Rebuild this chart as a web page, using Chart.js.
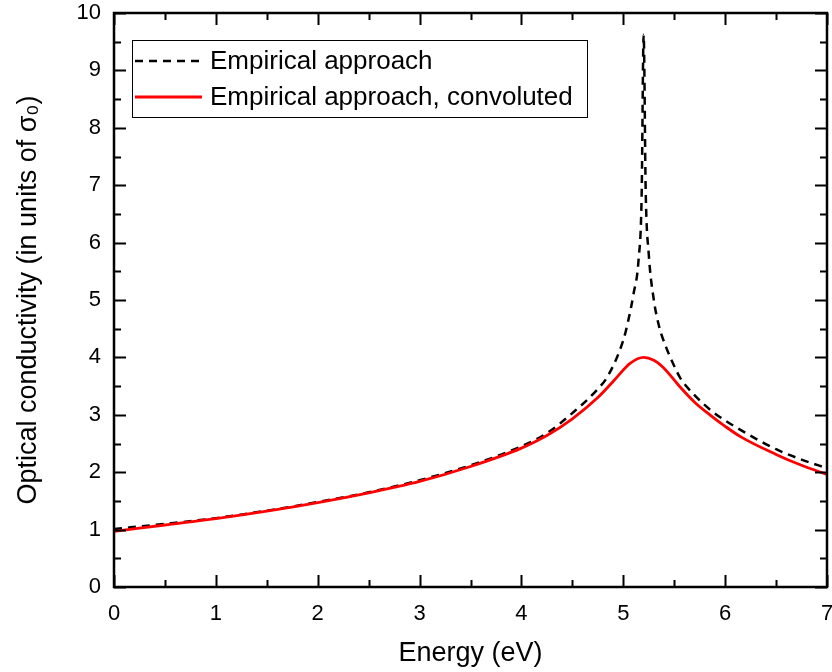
<!DOCTYPE html>
<html>
<head>
<meta charset="utf-8">
<script src="https://cdn.jsdelivr.net/npm/chart.js@4.4.1/dist/chart.umd.min.js"></script>
<style>
  html, body { margin: 0; padding: 0; background: #fff; }
  #wrap { width: 832px; height: 672px; }
</style>
</head>
<body>
<div id="wrap"><canvas id="cond"></canvas></div>
<script>
// Energy (eV) and conductivity values
var energyDashed = [0, 0.5, 1, 1.5, 2, 2.5, 3, 3.5, 4, 4.25, 4.5, 4.75, 4.85, 5.0, 5.05, 5.1, 5.15, 5.18, 5.2, 5.22, 5.25, 5.3, 5.35, 5.42, 5.5, 5.56, 5.69, 5.88, 6.12, 6.5, 6.75, 7.0];
var empirical = [1.01, 1.1, 1.2, 1.33, 1.48, 1.65, 1.86, 2.12, 2.45, 2.68, 3.03, 3.45, 3.68, 4.3, 4.65, 5.1, 5.7, 6.8, 9.62, 6.9, 5.8, 5.0, 4.55, 4.18, 3.85, 3.64, 3.36, 3.05, 2.77, 2.4, 2.22, 2.07];

var energyConv = [0, 0.5, 1, 1.5, 2, 2.5, 3, 3.5, 4, 4.25, 4.5, 4.75, 4.9, 5.07, 5.2, 5.3, 5.39, 5.56, 5.7, 5.85, 6.0, 6.15, 6.5, 6.75, 7.0];
var convoluted = [0.97, 1.08, 1.19, 1.32, 1.47, 1.64, 1.84, 2.1, 2.42, 2.64, 2.93, 3.3, 3.58, 3.9, 4.0, 3.95, 3.83, 3.48, 3.22, 3.0, 2.8, 2.62, 2.31, 2.12, 1.96];

var xTicks = [0, 1, 2, 3, 4, 5, 6, 7];
var yTicks = [0, 1, 2, 3, 4, 5, 6, 7, 8, 9, 10];

var seriesNames = ['Empirical approach', 'Empirical approach, convoluted'];

function toPoints(xs, ys) {
    return xs.map(function (x, i) { return { x: x, y: ys[i] }; });
}

// inward ticks on all four sides + frame
const frameTicks = {
    id: 'frameTicks',
    afterDraw(chart) {
        const { ctx, chartArea: { left, right, top, bottom }, scales: { x, y } } = chart;
        ctx.save();
        ctx.strokeStyle = '#000';
        ctx.lineWidth = 2;
        ctx.beginPath();
        for (var v = 0; v <= 7.001; v += 0.5) {
            var px = Math.round(x.getPixelForValue(v)) + 0.5;
            var len = (Math.abs(v - Math.round(v)) < 0.01) ? 12 : 7;
            ctx.moveTo(px, bottom); ctx.lineTo(px, bottom - len);
            ctx.moveTo(px, top); ctx.lineTo(px, top + len);
        }
        for (var w = 0; w <= 10.001; w += 0.5) {
            var py = Math.round(y.getPixelForValue(w)) + 0.5;
            var len2 = (Math.abs(w - Math.round(w)) < 0.01) ? 12 : 7;
            ctx.moveTo(left, py); ctx.lineTo(left + len2, py);
            ctx.moveTo(right, py); ctx.lineTo(right - len2, py);
        }
        ctx.stroke();
        ctx.lineWidth = 2.5;
        ctx.strokeRect(left, top, right - left, bottom - top);
        ctx.restore();
    }
};

// boxed legend inside the plot
const boxLegend = {
    id: 'boxLegend',
    afterDraw(chart) {
        const { ctx, chartArea: { left, top } } = chart;
        const bx = left + 18, by = top + 27, bw = 455, bh = 77;
        ctx.save();
        ctx.fillStyle = '#fff';
        ctx.fillRect(bx, by, bw, bh);
        ctx.strokeStyle = '#000';
        ctx.lineWidth = 1;
        ctx.strokeRect(bx + 0.5, by + 0.5, bw, bh);
        ctx.font = '26px "Liberation Sans", Arial, sans-serif';
        ctx.textBaseline = 'middle';
        ctx.fillStyle = '#000';
        chart.data.datasets.forEach(function (ds, i) {
            var ry = by + 21 + i * 36;
            ctx.strokeStyle = ds.borderColor;
            ctx.lineWidth = ds.borderWidth;
            ctx.setLineDash(ds.borderDash || []);
            ctx.beginPath();
            ctx.moveTo(bx + 3, ry);
            ctx.lineTo(bx + 70, ry);
            ctx.stroke();
            ctx.setLineDash([]);
            ctx.fillText(ds.label, bx + 78, ry + 1);
        });
        ctx.restore();
    }
};

new Chart(document.getElementById('cond'), {
    type: 'scatter',
    data: {
        datasets: [{
            label: seriesNames[0],
            data: toPoints(energyDashed, empirical),
            showLine: true,
            borderColor: '#000',
            borderWidth: 2.5,
            borderDash: [8, 6],
            pointRadius: 0,
            cubicInterpolationMode: 'monotone',
            order: 1
        },
        {
            label: seriesNames[1],
            data: toPoints(energyConv, convoluted),
            showLine: true,
            borderColor: '#ff0000',
            borderWidth: 2.8,
            pointRadius: 0,
            cubicInterpolationMode: 'monotone',
            order: 0
        }]
    },
    options: {
        responsive: true,
        maintainAspectRatio: false,
        animation: false,
        layout: { padding: { top: 13, right: 5, left: 0, bottom: 0 } },
        plugins: {
            legend: { display: false },
            tooltip: { enabled: false }
        },
        scales: {
            x: {
                type: 'linear',
                min: 0, max: 7,
                afterBuildTicks: function (s) { s.ticks = xTicks.map(function (v) { return { value: v }; }); },
                afterFit: function (s) { s.height = 85; s.paddingLeft = 0; s.paddingRight = 0; },
                grid: { display: false, drawTicks: false },
                border: { display: false },
                ticks: {
                    color: '#000',
                    padding: 14,
                    maxRotation: 0,
                    font: { family: '"Liberation Sans", Arial, sans-serif', size: 22 }
                },
                title: {
                    display: true,
                    text: 'Energy (eV)',
                    color: '#000',
                    padding: { top: 0, bottom: 2 },
                    font: { family: '"Liberation Sans", Arial, sans-serif', size: 27 }
                }
            },
            y: {
                type: 'linear',
                min: 0, max: 10,
                afterBuildTicks: function (s) { s.ticks = yTicks.map(function (v) { return { value: v }; }); },
                afterFit: function (s) { s.width = 114; s.paddingTop = 0; s.paddingBottom = 0; },
                grid: { display: false, drawTicks: false },
                border: { display: false },
                ticks: {
                    color: '#000',
                    padding: 13,
                    font: { family: '"Liberation Sans", Arial, sans-serif', size: 22 }
                },
                title: {
                    display: true,
                    text: 'Optical conductivity (in units of σ₀)',
                    color: '#000',
                    padding: { top: 12, bottom: 0 },
                    font: { family: '"Liberation Sans", Arial, sans-serif', size: 27 }
                }
            }
        }
    },
    plugins: [frameTicks, boxLegend]
});
</script>
</body>
</html>
